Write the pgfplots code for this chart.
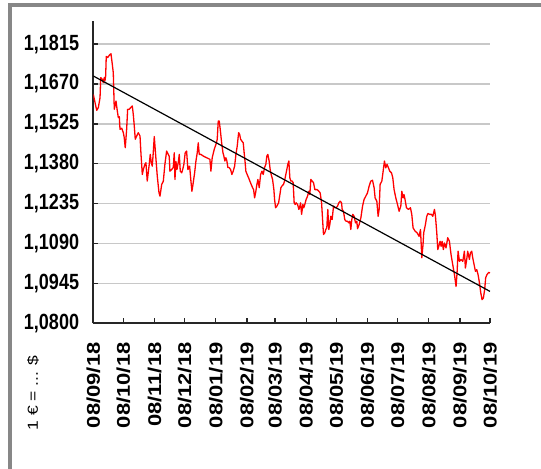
\documentclass[border=0pt]{standalone}
\usepackage{fontspec}
\setmainfont{Liberation Sans}
\usepackage{graphicx}
\usepackage{pgfplots}
\pgfplotsset{compat=1.18}
\newcommand\sy[1]{\scalebox{0.82}[1]{#1}}
\newcommand\sx[1]{\scalebox{1}[0.84]{#1}}
\definecolor{framegray}{RGB}{135,135,135}
\definecolor{gridgray}{RGB}{200,200,200}
\begin{document}
\begin{tikzpicture}
\useasboundingbox (0,0) rectangle (541bp,469bp);
\draw[framegray, line width=4bp] (9.8bp,-20bp) -- (9.8bp,463.5bp) -- (600bp,463.5bp);
\begin{axis}[
  at={(93.3bp,145.7bp)}, anchor=south west,
  scale only axis, width=396.7bp, height=302.6bp,
  xmin=0, xmax=395, ymin=1.08, ymax=1.19,
  axis x line*=bottom, axis y line*=left,
  axis line style={line width=1.8bp, black!85},
  tick align=inside, major tick length=5bp,
  tick style={line width=1.3bp, black!85},
  ymajorgrids, grid style={gridgray, line width=1.3bp},
  ytick={1.08,1.0945,1.109,1.1235,1.138,1.1525,1.167,1.1815},
  yticklabels={\sy{1,0800},\sy{1,0945},\sy{1,1090},\sy{1,1235},\sy{1,1380},\sy{1,1525},\sy{1,1670},\sy{1,1815}},
  xtick={0,30,61,91,122,153,181,212,242,273,303,334,365,395},
  xticklabels={\sx{08/09/18},\sx{08/10/18},\sx{08/11/18},\sx{08/12/18},\sx{08/01/19},\sx{08/02/19},\sx{08/03/19},\sx{08/04/19},\sx{08/05/19},\sx{08/06/19},\sx{08/07/19},\sx{08/08/19},\sx{08/09/19},\sx{08/10/19}},
  ticklabel style={font=\bfseries\fontsize{22bp}{24bp}\selectfont, black},
  xticklabel style={rotate=90, anchor=east, inner sep=0pt},
  xticklabel shift=19bp,
  yticklabel style={anchor=east, inner sep=0pt},
  yticklabel shift=14bp,
]
\addplot[red, line width=1.3bp, line join=round] coordinates {
(0,1.1632) (3.4,1.1574) (5.0,1.1584) (6.7,1.1620) (7.4,1.1693) (9.0,1.1687) (10.0,1.1675) (10.9,1.1693) (11.6,1.1681) (12.3,1.1699)
(12.9,1.1770) (14.3,1.1766) (15.9,1.1774) (17.6,1.1780) (18.9,1.1742) (19.9,1.1711) (20.9,1.1578) (22.6,1.1608) (23.9,1.1572) (24.9,1.1548)
(25.9,1.1551) (26.6,1.1505) (28.3,1.1509) (29.9,1.1493) (30.8,1.1475) (31.8,1.1438) (33.2,1.1505) (34.2,1.1578) (35.8,1.1578) (37.2,1.1584)
(38.8,1.1590) (39.8,1.1560) (40.8,1.1517) (41.8,1.1469) (43.2,1.1481) (44.8,1.1493) (46.5,1.1481) (47.5,1.1414) (48.8,1.1341) (49.8,1.1359)
(51.4,1.1378) (52.4,1.1384) (53.7,1.1317) (55.7,1.1378) (56.7,1.1414) (57.7,1.1385) (58.7,1.1371) (59.7,1.1420) (60.7,1.1479) (62.4,1.1396)
(63.7,1.1335) (65.4,1.1275) (66.4,1.1262) (68.1,1.1305) (69.7,1.1316) (71.3,1.1378) (73.0,1.1426) (74.6,1.1414) (75.6,1.1407) (76.3,1.1353)
(78.0,1.1359) (79.6,1.1366) (80.6,1.1420) (81.3,1.1323) (82.3,1.1388) (83.3,1.1359) (84.6,1.1385) (85.6,1.1414) (86.6,1.1353) (88.0,1.1347)
(89.0,1.1359) (90.2,1.1378) (91.5,1.1420) (92.9,1.1426) (94.2,1.1359) (95.9,1.1371) (97.2,1.1317) (98.2,1.1280) (99.5,1.1311) (100.9,1.1347)
(102.2,1.1390) (103.5,1.1420) (104.5,1.1456) (105.5,1.1414) (107.2,1.1414) (109.5,1.1408) (112.8,1.1402) (116.1,1.1396) (117.1,1.1353) (118.4,1.1402)
(120.4,1.1432) (122.1,1.1450) (123.4,1.1469) (124.4,1.1535) (125.4,1.1535) (126.4,1.1505) (127.8,1.1456) (129.1,1.1420) (130.0,1.1408) (131.0,1.1390)
(132.0,1.1402) (133.0,1.1390) (134.0,1.1366) (135.3,1.1366) (136.7,1.1359) (138.0,1.1341) (139.3,1.1353) (140.7,1.1371) (142.0,1.1414) (143.3,1.1444)
(144.7,1.1493) (145.7,1.1487) (146.7,1.1469) (148.0,1.1462) (149.3,1.1456) (150.2,1.1420) (151.2,1.1384) (151.9,1.1353) (153.2,1.1341) (154.6,1.1329)
(155.9,1.1317) (157.2,1.1305) (158.6,1.1293) (159.6,1.1286) (160.6,1.1256) (161.6,1.1274) (162.9,1.1305) (163.9,1.1323) (165.2,1.1293) (166.6,1.1341)
(167.9,1.1353) (169.2,1.1341) (170.5,1.1366) (171.8,1.1378) (172.8,1.1408) (173.8,1.1414) (175.1,1.1390) (176.1,1.1359) (177.1,1.1341) (178.5,1.1323)
(179.8,1.1286) (180.5,1.1250) (181.5,1.1220) (182.8,1.1226) (184.5,1.1238) (185.8,1.1268) (186.8,1.1293) (187.8,1.1299) (189.4,1.1305) (190.4,1.1317)
(191.7,1.1341) (192.7,1.1359) (193.7,1.1378) (194.7,1.1390) (195.7,1.1329) (196.7,1.1317) (198.0,1.1317) (199.0,1.1311) (200.0,1.1238) (201.0,1.1232)
(202.0,1.1238) (203.4,1.1232) (204.7,1.1214) (205.7,1.1226) (206.4,1.1238) (207.4,1.1196) (208.7,1.1232) (209.6,1.1220) (210.6,1.1232) (211.9,1.1250)
(213.3,1.1262) (214.6,1.1280) (215.6,1.1268) (216.6,1.1323) (217.9,1.1317) (219.3,1.1311) (220.6,1.1286) (222.9,1.1286) (224.6,1.1280) (225.9,1.1274)
(227.3,1.1238) (228.3,1.1177) (229.2,1.1123) (230.5,1.1129) (231.5,1.1141) (232.5,1.1147) (233.5,1.1214) (234.5,1.1141) (235.5,1.1159) (236.5,1.1189)
(237.8,1.1177) (239.2,1.1226) (240.5,1.1220) (241.8,1.1220) (243.2,1.1226) (244.5,1.1238) (245.8,1.1244) (247.2,1.1238) (247.8,1.1214) (249.1,1.1207)
(250.4,1.1177) (251.7,1.1171) (253.1,1.1171) (254.4,1.1165) (255.4,1.1171) (256.4,1.1141) (257.4,1.1177) (258.4,1.1196) (259.7,1.1189) (261.1,1.1165)
(262.4,1.1171) (263.1,1.1144) (264.7,1.1159) (266.4,1.1183) (268.1,1.1226) (269.6,1.1250) (271.3,1.1262) (273.0,1.1274) (274.6,1.1298) (276.3,1.1317)
(278.0,1.1320) (279.6,1.1293) (280.6,1.1256) (282.3,1.1244) (283.6,1.1189) (284.6,1.1214) (285.6,1.1305) (287.3,1.1317) (288.6,1.1353) (289.9,1.1390)
(291.2,1.1365) (292.5,1.1378) (293.9,1.1365) (295.2,1.1353) (296.9,1.1347) (298.2,1.1329) (299.5,1.1286) (301.2,1.1256) (302.9,1.1232) (304.5,1.1207)
(306.2,1.1226) (307.2,1.1280) (308.5,1.1256) (309.4,1.1268) (310.4,1.1250) (311.8,1.1220) (313.8,1.1214) (315.8,1.1220) (317.1,1.1196) (318.4,1.1147)
(320.4,1.1135) (322.4,1.1129) (324.4,1.1116) (325.8,1.1141) (327.1,1.1038) (328.3,1.1086) (329.0,1.1129) (330.7,1.1159) (332.0,1.1189) (333.3,1.1199)
(335.0,1.1196) (336.7,1.1196) (338.0,1.1189) (339.7,1.1214) (340.7,1.1189) (342.0,1.1129) (343.0,1.1068) (344.0,1.1080) (345.3,1.1098) (346.3,1.1080)
(347.3,1.1098) (348.6,1.1068) (349.6,1.1092) (351.2,1.1074) (352.9,1.1111) (354.6,1.1098) (356.2,1.1050) (357.9,1.1013) (359.6,1.0977) (361.2,1.0934)
(362.2,1.0983) (363.2,1.1062) (364.6,1.1025) (366.2,1.1032) (367.9,1.1025) (369.5,1.1062) (370.5,1.1001) (371.8,1.1032) (372.8,1.1062) (374.5,1.1032)
(375.5,1.1056) (376.8,1.1062) (377.8,1.1038) (379.5,1.1007) (380.5,1.0989) (381.8,1.0995) (383.1,1.0977) (384.5,1.0947) (385.8,1.0911) (387.1,1.0886)
(388.4,1.0892) (389.7,1.0923) (390.7,1.0966) (392.0,1.0977) (393.7,1.0985) (395.0,1.0983)
};
\addplot[black, line width=1.2bp] coordinates {(0,1.1699) (395,1.0916)};
\end{axis}
\node[rotate=90, inner sep=0pt, font=\fontsize{17.5bp}{19bp}\selectfont] at (33bp,76bp) {\scalebox{1}[0.83]{1 € = ... \$}};
\end{tikzpicture}
\end{document}
